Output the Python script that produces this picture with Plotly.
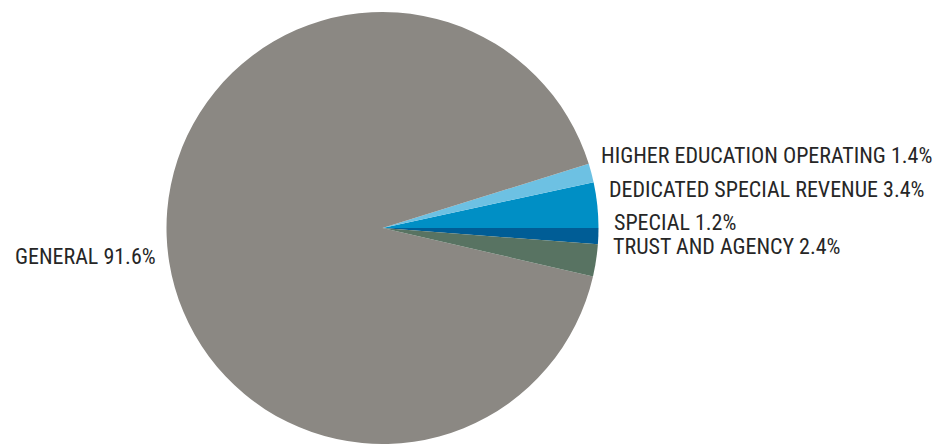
import plotly.graph_objects as go

categories = ["SPECIAL", "DEDICATED SPECIAL REVENUE", "HIGHER EDUCATION OPERATING", "GENERAL", "TRUST AND AGENCY"]
percents = [1.2, 3.4, 1.4, 91.6, 2.4]
colors = ["#005D96", "#008FC5", "#6DC1E3", "#8B8883", "#587362"]

W, H = 942, 444
cx, r = 382.5, 216

fig = go.Figure(go.Pie(
    labels=categories,
    values=percents,
    sort=False,
    direction="counterclockwise",
    rotation=90,
    marker=dict(colors=colors, line=dict(width=0)),
    textinfo="none",
    hoverinfo="label+percent",
    showlegend=False,
    domain=dict(x=[(cx - r) / W, (cx + r) / W], y=[0, 2 * r / H]),
))

# label placements (pixel positions of left edge / vertical centre)
label_pos = {
    "HIGHER EDUCATION OPERATING": (599, 156),
    "DEDICATED SPECIAL REVENUE": (607, 189),
    "SPECIAL": (612, 222),
    "TRUST AND AGENCY": (611, 246),
    "GENERAL": (13, 256),
}
for cat, pct in zip(categories, percents):
    px, py = label_pos[cat]
    fig.add_annotation(
        x=px / W, y=1 - py / H, xref="paper", yref="paper",
        xanchor="left", yanchor="middle", showarrow=False,
        text=f"{cat} {pct:.1f}%",
        font=dict(family="Roboto Condensed, DejaVu Sans Condensed, sans-serif", size=22,
                  color="#262626"),
    )

fig.update_layout(
    width=W, height=H,
    margin=dict(l=0, r=0, t=0, b=0),
    paper_bgcolor="white", plot_bgcolor="white",
)
fig.write_html("out.html", config={"displayModeBar": False},
               post_script="document.body.style.margin='0';")
